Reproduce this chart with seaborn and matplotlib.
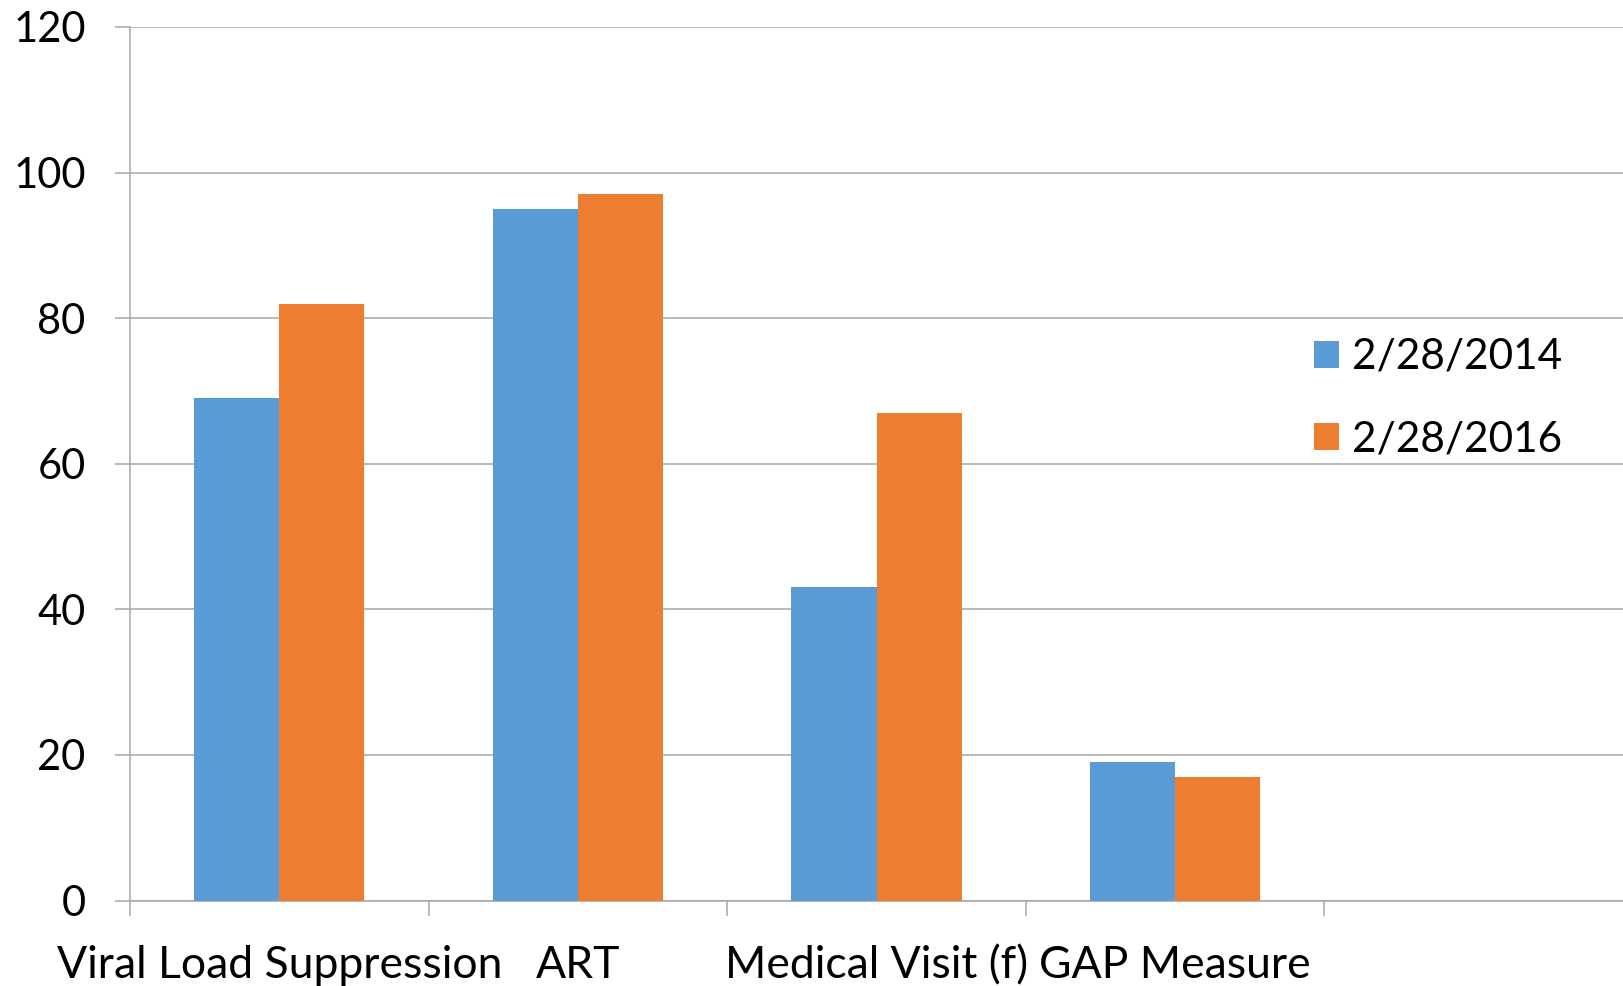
import pandas as pd
import matplotlib.pyplot as plt
import seaborn as sns
from matplotlib.ticker import FixedLocator

categories = ['Viral Load Suppression', 'ART', 'Medical Visit (f)', 'GAP Measure']
dates = ['2/28/2014', '2/28/2016']
values_2014 = [69, 95, 43, 19]
values_2016 = [82, 97, 67, 17]
y_ticks = [0, 20, 40, 60, 80, 100, 120]


def build_frame():
    rows = []
    for cat, v1, v2 in zip(categories, values_2014, values_2016):
        rows.append({'Measure': cat, 'Date': dates[0], 'Value': v1})
        rows.append({'Measure': cat, 'Date': dates[1], 'Value': v2})
    return pd.DataFrame(rows)


def plot_bar_chart(df, output_file_path):
    sns.set_style('white')
    plt.rcParams['font.family'] = ['Lato', 'DejaVu Sans']
    plt.rcParams['text.color'] = 'black'
    plt.rcParams['xtick.color'] = 'black'
    plt.rcParams['ytick.color'] = 'black'
    grey = '#a6a6a6'
    fig = plt.figure(figsize=(16.23, 9.86), dpi=100)
    ax = fig.add_axes([130 / 1623, 1 - 900.5 / 986, 1 - 130 / 1623, (900.5 - 27) / 986])
    colour_palette = ['#5b9bd5', '#ed7d31']
    sns.barplot(data=df, x='Measure', y='Value', hue='Date', hue_order=dates,
                order=categories, palette=colour_palette, width=0.57,
                saturation=1, edgecolor='none', linewidth=0, ax=ax, zorder=3)
    ax.set_xlim(-0.5, 4.5)
    ax.set_ylim(0, 120)
    ax.set_yticks(y_ticks)
    ax.yaxis.grid(True, color=grey, linewidth=1.1, zorder=0)
    ax.set_axisbelow(True)
    for side in ['top', 'right']:
        ax.spines[side].set_visible(False)
    for side in ['left', 'bottom']:
        ax.spines[side].set_color(grey)
        ax.spines[side].set_linewidth(1.1)
    ax.tick_params(axis='y', length=11, width=1.1, color=grey, labelcolor='black',
                   labelsize=30, pad=21, left=True)
    ax.tick_params(axis='x', which='major', length=0, labelsize=32, pad=32,
                   labelcolor='black')
    ax.xaxis.set_minor_locator(FixedLocator([-0.5, 0.5, 1.5, 2.5, 3.5]))
    ax.tick_params(axis='x', which='minor', length=11, width=1.1, color=grey, bottom=True)
    ax.set_xlabel('')
    ax.set_ylabel('')
    handles, labels = ax.get_legend_handles_labels()
    ax.legend(handles=handles, labels=labels, loc='center left',
              bbox_to_anchor=(0.793, 0.575), bbox_transform=ax.transAxes,
              frameon=False, fontsize=30.5, handlelength=0.6, handleheight=0.6,
              handletextpad=0.3, labelspacing=1.05, borderpad=0, borderaxespad=0)
    fig.savefig(output_file_path, dpi=100)
    plt.close(fig)


if __name__ == "__main__":
    df = build_frame()
    plot_bar_chart(df, "out.png")
